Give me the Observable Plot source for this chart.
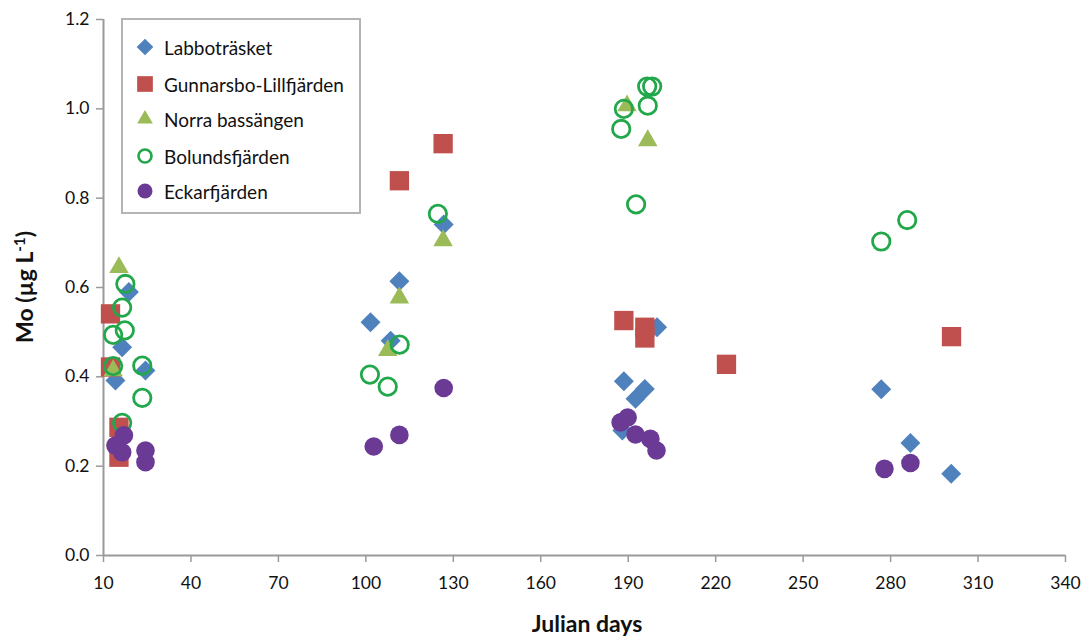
<!DOCTYPE html>
<html>
<head>
<meta charset="utf-8">
<script src="https://cdn.jsdelivr.net/npm/d3@7"></script>
<script src="https://cdn.jsdelivr.net/npm/@observablehq/plot@0.6"></script>
<style>
  html, body { margin: 0; padding: 0; background: #fff; }
  #wrap { position: relative; width: 1089px; height: 639px; font-family: Lato, "Open Sans", sans-serif; }
  #legend { position: absolute; left: 121px; top: 18px; width: 236px; height: 192px; border: 2px solid #b4b4b4; background: #fff; box-sizing: content-box; }
  #legend .row { position: absolute; left: 10px; height: 24px; display: flex; align-items: center; font-size: 19px; color: #111; }
  #legend svg { width: 24px; height: 24px; margin-right: 7px; }
</style>
</head>
<body>
<div id="wrap"></div>
<script>
const seriesNames = ["Labbotr\u00e4sket", "Gunnarsbo-Lillfj\u00e4rden", "Norra bass\u00e4ngen", "Bolundsfj\u00e4rden", "Eckarfj\u00e4rden"];

const labboDays = [18.7, 16.4, 14.1, 24.4, 101.6, 108.5, 111.5, 126.7, 188, 188.5, 192.5, 195.7, 199.9, 276.8, 286.8, 300.8];
const labboMo   = [0.59, 0.466, 0.392, 0.414, 0.522, 0.481, 0.614, 0.741, 0.28, 0.39, 0.351, 0.373, 0.511, 0.372, 0.252, 0.183];

const gunnarDays = [12.4, 12.4, 15.3, 15.3, 111.5, 126.5, 188.5, 195.7, 195.7, 223.7, 300.9];
const gunnarMo   = [0.541, 0.422, 0.287, 0.22, 0.839, 0.922, 0.526, 0.511, 0.487, 0.428, 0.49];

const norraDays = [15.3, 13.3, 107.5, 111.5, 126.5, 189.6, 196.7];
const norraMo   = [0.645, 0.414, 0.459, 0.577, 0.705, 1.007, 0.929];

const bolundDays = [17.5, 16.4, 13.3, 17.3, 13.3, 23.3, 23.3, 16.4, 101.4, 107.5, 111.6, 124.7, 187.6, 188.5, 192.7, 196.7, 196.5, 198.2, 276.8, 285.7];
const bolundMo   = [0.608, 0.555, 0.494, 0.504, 0.424, 0.425, 0.353, 0.297, 0.405, 0.378, 0.472, 0.765, 0.955, 1.0, 0.786, 1.007, 1.05, 1.05, 0.703, 0.751];

const eckarDays = [17, 14.1, 16.4, 24.4, 24.4, 102.7, 111.5, 126.7, 187.4, 189.8, 192.5, 197.6, 199.7, 277.9, 286.8];
const eckarMo   = [0.269, 0.246, 0.231, 0.235, 0.209, 0.244, 0.27, 0.375, 0.298, 0.309, 0.271, 0.261, 0.235, 0.194, 0.207];

const xTicks = [10, 40, 70, 100, 130, 160, 190, 220, 250, 280, 310, 340];
const yTicks = [0, 0.2, 0.4, 0.6, 0.8, 1.0, 1.2];

const colors = ["#4F81BD", "#C0504D", "#9BBB59", "#22A84A", "#6A3A94"];

const toRows = (days, vals) => days.map((d, i) => ({day: d, mo: vals[i]}));
const labbo = toRows(labboDays, labboMo);
const gunnar = toRows(gunnarDays, gunnarMo);
const norra = toRows(norraDays, norraMo);
const bolund = toRows(bolundDays, bolundMo);
const eckar = toRows(eckarDays, eckarMo);

const axisColor = "#9a9a9a";

const chart = Plot.plot({
  width: 1089,
  height: 639,
  marginLeft: 103,
  marginRight: 24,
  marginTop: 19,
  marginBottom: 84,
  style: {fontFamily: "Lato, 'Open Sans', sans-serif", background: "#fff"},
  x: {domain: [10, 340]},
  y: {domain: [0, 1.2]},
  marks: [
    Plot.axisX({ticks: xTicks, tickSize: 7, tickPadding: 14, fontSize: 17.5, stroke: axisColor, strokeWidth: 1.5, color: "#111", label: null}),
    Plot.axisY({ticks: yTicks, tickSize: 7, tickPadding: 7, fontSize: 17.5, stroke: axisColor, strokeWidth: 1.5, color: "#111", tickFormat: d3.format(".1f"), label: null}),
    Plot.ruleX([10], {stroke: axisColor, strokeWidth: 2}),
    Plot.ruleY([0], {stroke: axisColor, strokeWidth: 2}),
    Plot.dot(labbo, {x: "day", y: "mo", symbol: "diamond2", r: 9, fill: colors[0], stroke: "none"}),
    Plot.dot(gunnar, {x: "day", y: "mo", symbol: "square2", r: 12.3, fill: colors[1], stroke: "none"}),
    Plot.dot(norra, {x: "day", y: "mo", symbol: "triangle2", r: 9.3, fill: colors[2], stroke: "none"}),
    Plot.dot(bolund, {x: "day", y: "mo", symbol: "circle", r: 8.7, fill: "none", stroke: colors[3], strokeWidth: 2.8}),
    Plot.dot(eckar, {x: "day", y: "mo", symbol: "circle", r: 9.3, fill: colors[4], stroke: "none"})
  ]
});

const wrap = document.getElementById("wrap");
wrap.appendChild(chart);

// axis titles
const svg = d3.select(chart);
const yt = svg.append("text")
  .attr("transform", "translate(33,287) rotate(-90)")
  .attr("text-anchor", "middle")
  .attr("font-size", 23)
  .attr("font-weight", "bold")
  .attr("fill", "#111");
yt.append("tspan").text("Mo (\u00b5g L");
yt.append("tspan").attr("dy", -8).attr("font-size", 15).text("-1");
yt.append("tspan").attr("dy", 8).text(")");

svg.append("text")
  .attr("x", 587).attr("y", 632)
  .attr("text-anchor", "middle")
  .attr("font-size", 23)
  .attr("font-weight", "bold")
  .attr("fill", "#111")
  .text("Julian days");

// legend
const legend = document.createElement("div");
legend.id = "legend";
const rowTops = [15, 52, 87, 124, 159];
seriesNames.forEach((name, i) => {
  const row = document.createElement("div");
  row.className = "row";
  row.style.top = rowTops[i] + "px";
  const ns = "http://www.w3.org/2000/svg";
  const s = document.createElementNS(ns, "svg");
  s.setAttribute("viewBox", "-12 -12 24 24");
  let el;
  if (i === 3 || i === 4) {
    el = document.createElementNS(ns, "circle");
    el.setAttribute("r", i === 3 ? 6.5 : 7.5);
    if (i === 3) { el.setAttribute("fill", "none"); el.setAttribute("stroke", colors[i]); el.setAttribute("stroke-width", 2.6); }
    else el.setAttribute("fill", colors[i]);
  } else {
    el = document.createElementNS(ns, "path");
    const sym = i === 0 ? d3.symbolDiamond2 : i === 1 ? d3.symbolSquare2 : d3.symbolTriangle2;
    const r = i === 0 ? 7.5 : i === 1 ? 10 : 7.5;
    el.setAttribute("d", d3.symbol(sym, r * r * Math.PI)());
    el.setAttribute("fill", colors[i]);
  }
  s.appendChild(el);
  row.appendChild(s);
  const t = document.createElement("span");
  t.textContent = name;
  row.appendChild(t);
  legend.appendChild(row);
});
wrap.appendChild(legend);
</script>
</body>
</html>
